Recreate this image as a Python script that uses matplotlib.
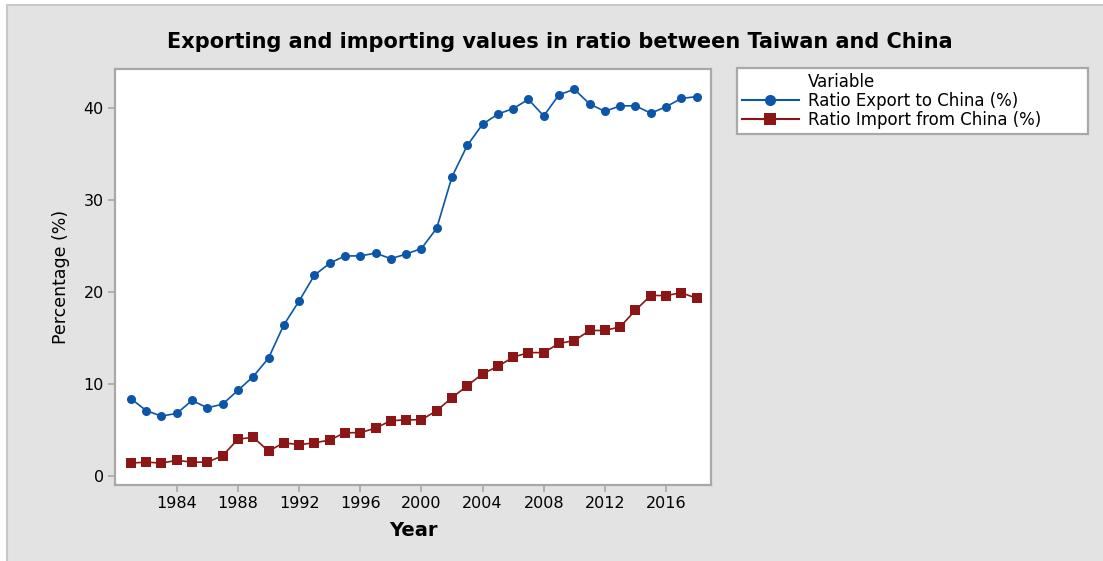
import matplotlib
matplotlib.use("Agg")
from matplotlib import pyplot as plt
from matplotlib.lines import Line2D
from matplotlib.patches import Rectangle

years = list(range(1981, 2019))
export_ratio = [8.4, 7.1, 6.5, 6.8, 8.2, 7.4, 7.8, 9.3, 10.8, 12.8,
                16.4, 19.0, 21.8, 23.1, 23.9, 23.9, 24.2, 23.6, 24.1, 24.7,
                26.9, 32.5, 35.9, 38.2, 39.3, 39.9, 40.9, 39.1, 41.4, 42.0,
                40.4, 39.6, 40.2, 40.2, 39.4, 40.1, 41.0, 41.2]
import_ratio = [1.4, 1.5, 1.4, 1.7, 1.5, 1.5, 2.2, 4.0, 4.2, 2.7,
                3.6, 3.4, 3.6, 3.9, 4.7, 4.7, 5.2, 6.0, 6.1, 6.1,
                7.1, 8.5, 9.8, 11.1, 11.9, 12.9, 13.4, 13.4, 14.4, 14.7,
                15.8, 15.8, 16.2, 18.0, 19.6, 19.6, 19.9, 19.3]
labels = ["Ratio Export to China (%)", "Ratio Import from China (%)"]
xticks = list(range(1984, 2017, 4))
yticks = [0, 10, 20, 30, 40]

blue = "#0b56a8"
red = "#8c1515"
grey = "#a8a8a8"

plt.rcParams["font.family"] = ["DejaVu Sans"]

W, H = 1103, 561
fig = plt.figure(figsize=(W / 100, H / 100), dpi=100)
fig.patch.set_facecolor("white")
# grey outer panel like the Minitab graph window
fig.patches.append(Rectangle((7 / W, -0.01), 1, 1.01 - 5 / H, transform=fig.transFigure,
                             facecolor="#e3e3e3", edgecolor="#c8c8c8", lw=1.5, zorder=-10))

ax = fig.add_axes([115 / W, 1 - 485 / H, (711 - 115) / W, (485 - 69) / H])
ax.set_facecolor("white")

ax.plot(years, export_ratio, color=blue, lw=1.2, marker="o", markersize=6.5,
        markeredgewidth=0)
ax.plot(years, import_ratio, color=red, lw=1.2, marker="s", markersize=6.5,
        markeredgewidth=0)

ax.set_xlim(1979.96, 2018.94)
ax.set_ylim(-0.98, 44.2)
ax.set_xticks(xticks)
ax.set_yticks(yticks)

for s in ax.spines.values():
    s.set_color(grey)
    s.set_linewidth(1.6)
ax.tick_params(axis="both", colors=grey, length=5, width=1.2, labelcolor="black",
               labelsize=11.5, pad=3)

ax.set_xlabel("Year", fontsize=14, fontweight="bold", labelpad=7)
ax.set_ylabel("Percentage (%)", fontsize=12.5, labelpad=10)
fig.text(560 / W, 1 - 42 / H, "Exporting and importing values in ratio between Taiwan and China",
         ha="center", va="center", fontsize=15, fontweight="bold")

handles = [
    Line2D([], [], color="none"),
    Line2D([], [], color=blue, lw=1.5, marker="o", markersize=8, markeredgewidth=0),
    Line2D([], [], color=red, lw=1.5, marker="s", markersize=8, markeredgewidth=0),
]
leg = fig.legend(handles, ["Variable"] + labels, loc="upper left",
                 bbox_to_anchor=(737 / W, 1 - 134 / H, (1088 - 737) / W, (134 - 68) / H),
                 mode="expand", borderaxespad=0, fancybox=False, fontsize=12,
                 handlelength=3.4, handletextpad=0.55, labelspacing=0.06,
                 borderpad=0.3, framealpha=1)
leg.get_frame().set_edgecolor(grey)
leg.get_frame().set_linewidth(1.6)

fig.savefig("out.png", dpi=100)
